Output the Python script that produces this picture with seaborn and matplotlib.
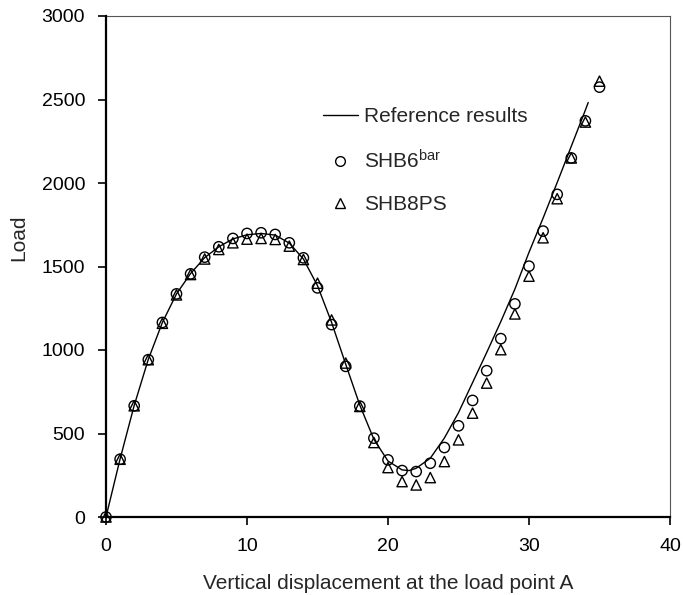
import matplotlib
matplotlib.use("Agg")
import matplotlib.pyplot as plt
import seaborn as sns
import numpy as np
import pandas as pd
from matplotlib.lines import Line2D

# Data
ref_x = [0, 1, 2, 3, 4, 5, 6, 7, 8, 9, 10, 11, 12, 13, 14, 15, 16, 17, 18, 19, 20,
         21, 21.5, 22, 23, 24, 25, 26, 27, 28, 29, 30, 31, 32, 33, 34, 34.2]
ref_y = [0, 348, 668, 944, 1165, 1336, 1458, 1553, 1618, 1665, 1690, 1698, 1688, 1640,
         1545, 1385, 1165, 915, 670, 465, 335, 282, 278, 292, 352, 473, 625, 805, 985,
         1170, 1365, 1585, 1790, 2003, 2220, 2437, 2482]

pts_x = list(range(0, 36))
shb6_y = [0, 346, 666, 942, 1165, 1336, 1456, 1556, 1618, 1668, 1698, 1702, 1692, 1642,
          1552, 1372, 1152, 902, 664, 472, 342, 278, 272, 322, 416, 546, 698, 876, 1068,
          1276, 1502, 1712, 1932, 2150, 2372, 2574]
shb8_y = [0, 346, 666, 942, 1160, 1330, 1452, 1545, 1602, 1642, 1664, 1668, 1662, 1622,
          1542, 1400, 1180, 922, 662, 446, 296, 212, 192, 236, 332, 462, 622, 802, 1002,
          1216, 1442, 1672, 1906, 2150, 2365, 2610]

labels = ["Reference results", "SHB6$^{\\mathrm{bar}}$", "SHB8PS"]
x_ticks = [0, 10, 20, 30, 40]
y_ticks = [0, 500, 1000, 1500, 2000, 2500, 3000]

sns.set_style("ticks")
plt.rcParams['font.family'] = ['Liberation Sans', 'DejaVu Sans']
plt.rcParams['mathtext.fontset'] = 'custom'
plt.rcParams['mathtext.rm'] = 'Liberation Sans'
plt.rcParams['mathtext.it'] = 'Liberation Sans:italic'

fig = plt.figure(figsize=(6.83, 5.95), dpi=100)
ax = fig.add_axes([106/683, 78/595, 564/683, 501/595])

sns.lineplot(x=ref_x, y=ref_y, ax=ax, color='black', linewidth=1.0, sort=False,
             estimator=None, zorder=2)
sns.scatterplot(x=pts_x, y=shb6_y, ax=ax, marker='o', s=55, facecolors='none',
                edgecolors='black', linewidths=1.0, zorder=6, clip_on=False)
sns.scatterplot(x=pts_x, y=shb8_y, ax=ax, marker='^', s=55, facecolors='none',
                edgecolors='black', linewidths=1.0, zorder=6, clip_on=False)

ax.set_xlim(0, 40)
ax.set_ylim(0, 3000)
ax.set_xticks(x_ticks)
ax.set_yticks(y_ticks)
ax.tick_params(axis='both', labelsize=14, length=6, width=1.2, direction='out',
               colors='black', pad=9)
ax.set_xlabel("Vertical displacement at the load point A", fontsize=15, labelpad=14)
ax.set_ylabel("Load", fontsize=15)
ax.yaxis.set_label_coords(-0.137, 0.557)

for side in ['left', 'bottom']:
    ax.spines[side].set_linewidth(1.6)
    ax.spines[side].set_color('black')
for side in ['top', 'right']:
    ax.spines[side].set_linewidth(0.8)
    ax.spines[side].set_color('#555555')
ax.spines['left'].set_zorder(5)
ax.spines['bottom'].set_zorder(5)

handles = [
    Line2D([0], [0], color='black', linewidth=1.0),
    Line2D([0], [0], marker='o', linestyle='none', markersize=7, markerfacecolor='none',
           markeredgecolor='black', markeredgewidth=1.0),
    Line2D([0], [0], marker='^', linestyle='none', markersize=7, markerfacecolor='none',
           markeredgecolor='black', markeredgewidth=1.0),
]
leg = ax.legend(handles, labels, loc='upper left', bbox_to_anchor=(0.384, 0.818),
                frameon=False, fontsize=15, labelspacing=1.1, handlelength=1.7,
                handletextpad=0.3, borderaxespad=0, borderpad=0)

fig.savefig("out.png", dpi=100)
